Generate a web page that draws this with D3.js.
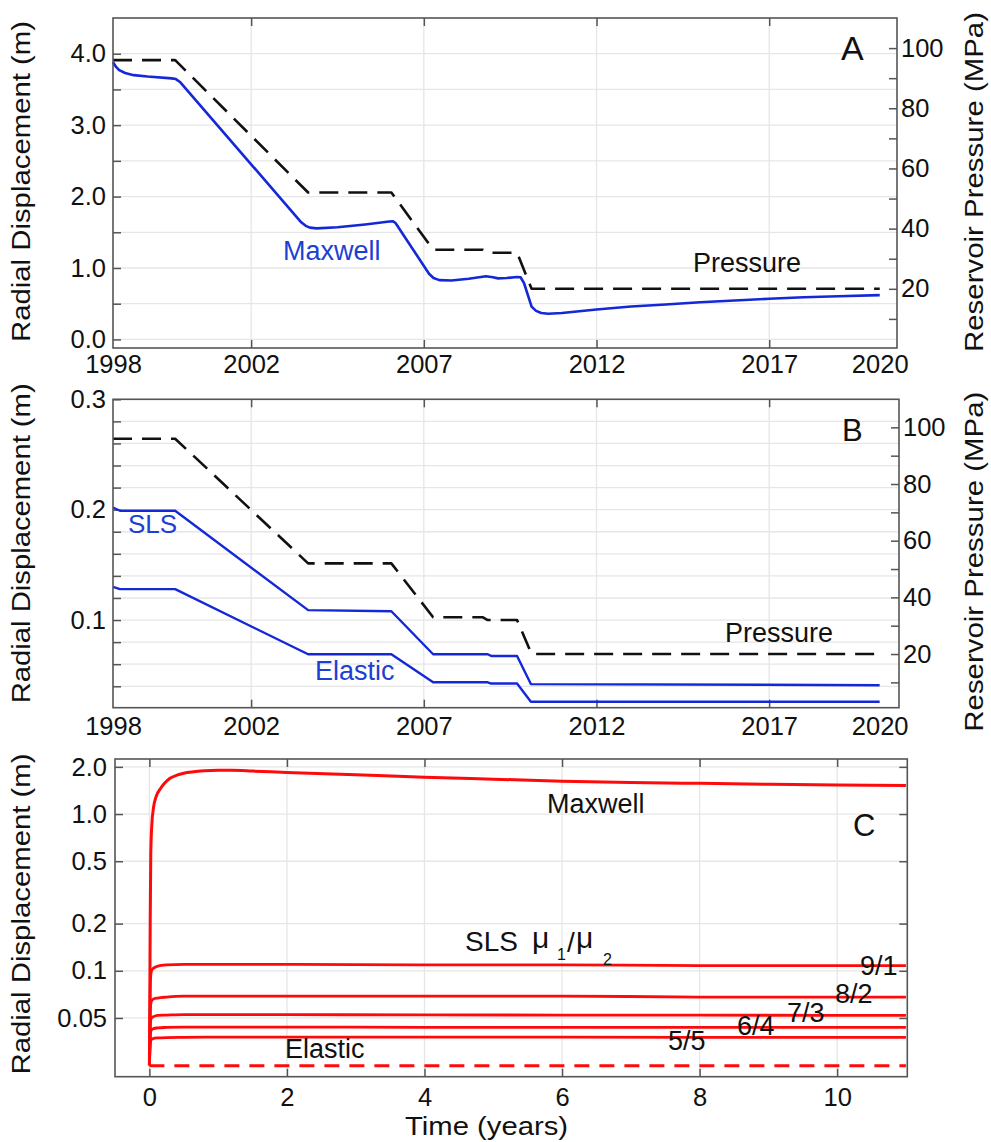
<!DOCTYPE html>
<html>
<head>
<meta charset="utf-8">
<script src="https://cdn.jsdelivr.net/npm/d3@7"></script>
<style>
  body { margin: 0; background: #fff; }
  svg { display: block; }
  text { font-family: "Liberation Sans", Arial, sans-serif; fill: #111; }
</style>
</head>
<body>
<svg id="chart" width="991" height="1142"></svg>
<script>
// ---------- Panel A / B: reservoir pressure history (MPa) ----------
const pressureYears = [1998, 1999.8, 2003.65, 2006.06, 2007.27, 2008.7, 2008.85, 2009.7, 2010.12, 2020.2];
const pressureMPa   = [96, 96, 52, 52, 33, 33, 32, 32, 20, 20];

// ---------- Panel A: Maxwell radial displacement (m) ----------
const maxwellYearsA = [1998, 1998.08, 1998.18, 1998.35, 1998.6, 1999.0, 1999.7, 1999.82, 1999.95, 2003.45, 2003.58, 2003.7, 2003.9, 2004.5, 2005.3, 2006.0, 2006.1, 2006.18,
                       2007.15, 2007.28, 2007.45, 2007.8, 2008.3, 2008.8, 2009.0, 2009.15, 2009.4, 2009.7, 2009.8, 2009.9, 2010.12, 2010.25, 2010.4, 2010.6,
                       2011, 2012, 2013, 2014, 2015, 2016, 2017, 2018, 2019, 2020.2];
const maxwellA      = [3.88, 3.82, 3.77, 3.73, 3.7, 3.68, 3.655, 3.645, 3.6, 1.64, 1.59, 1.565, 1.555, 1.57, 1.61, 1.65, 1.655, 1.63,
                       0.92, 0.86, 0.83, 0.825, 0.85, 0.885, 0.87, 0.855, 0.86, 0.875, 0.87, 0.79, 0.46, 0.4, 0.37, 0.36,
                       0.37, 0.42, 0.46, 0.49, 0.52, 0.545, 0.57, 0.59, 0.605, 0.62];

// ---------- Panel B: SLS and elastic radial displacement (m) ----------
const yearsB     = [1998, 1998.2, 1999.8, 2003.65, 2006.06, 2007.27, 2008.85, 2008.95, 2009.7, 2010.1, 2020.2];
const slsB       = [0.202, 0.199, 0.199, 0.109, 0.108, 0.069, 0.069, 0.0675, 0.0675, 0.042, 0.041];
const elasticB   = [0.13, 0.128, 0.128, 0.069, 0.069, 0.0436, 0.0436, 0.0425, 0.0425, 0.026, 0.026];

// ---------- Panel C: displacement after a pressure step (log scale) ----------
const tMaxwellC  = [0, 0.005, 0.012, 0.02, 0.035, 0.06, 0.1, 0.16, 0.22, 0.3, 0.4, 0.5, 0.65, 0.8, 1.0, 1.2, 1.5,
                    2, 3, 4, 5, 6, 7, 8, 9, 10, 11];
const maxwellC   = [0.025, 0.05, 0.2, 0.55, 0.85, 1.1, 1.3, 1.45, 1.57, 1.69, 1.77, 1.82, 1.86, 1.89, 1.9, 1.9, 1.88,
                    1.84, 1.78, 1.72, 1.67, 1.62, 1.59, 1.57, 1.55, 1.53, 1.52];
const tSLS       = [0, 0.008, 0.015, 0.03, 0.06, 0.12, 0.25, 0.5, 1, 2, 4, 6, 8, 10, 11];
const sls91      = [0.025, 0.05, 0.085, 0.1, 0.104, 0.107, 0.109, 0.11, 0.11, 0.11, 0.109, 0.109, 0.108, 0.108, 0.108];
const sls82      = [0.025, 0.04, 0.058, 0.064, 0.066, 0.067, 0.068, 0.069, 0.069, 0.069, 0.069, 0.069, 0.068, 0.068, 0.068];
const sls73      = [0.025, 0.036, 0.047, 0.05, 0.051, 0.052, 0.0522, 0.0525, 0.0525, 0.0525, 0.0523, 0.0522, 0.0521, 0.052, 0.052];
const sls64      = [0.025, 0.033, 0.04, 0.042, 0.0428, 0.0432, 0.0435, 0.0437, 0.0437, 0.0437, 0.0436, 0.0436, 0.0435, 0.0435, 0.0435];
const sls55      = [0.025, 0.031, 0.035, 0.0365, 0.037, 0.0373, 0.0375, 0.0376, 0.0377, 0.0377, 0.0377, 0.0377, 0.0376, 0.0376, 0.0376];
const slsRatios  = ["9/1", "8/2", "7/3", "6/4", "5/5"];
const tElasticC  = [0, 11];
const elasticC   = [0.0248, 0.0248];

// ---------- tick values and labels ----------
const yearTicks      = [1998, 2002, 2007, 2012, 2017, 2020.2];
const yearTickLabels = ["1998", "2002", "2007", "2012", "2017", "2020"];
const yearGrid       = [2002, 2007, 2012, 2017];
const dispTicksA     = [0, 1, 2, 3, 4];
const dispLabelsA    = ["0.0", "1.0", "2.0", "3.0", "4.0"];
const dispMinorA     = [0.5, 1.5, 2.5, 3.5];
const dispTicksB     = [0.1, 0.2, 0.3];
const dispLabelsB    = ["0.1", "0.2", "0.3"];
const dispMinorB     = [0.04, 0.06, 0.08, 0.12, 0.14, 0.16, 0.18, 0.22, 0.24, 0.26, 0.28];
const pressTicks     = [10, 20, 30, 40, 50, 60, 70, 80, 90, 100];
const pressLabeled   = [20, 40, 60, 80, 100];
const timeTicksC     = [0, 2, 4, 6, 8, 10];
const dispTicksC     = [2, 1, 0.5, 0.2, 0.1, 0.05];
const dispLabelsC    = ["2.0", "1.0", "0.5", "0.2", "0.1", "0.05"];

// ---------- styling ----------
const FRAME = "#555", GRID = "#e6e6e6", BLUE = "#1428d8", BLUE_TEXT = "#1d3fd4", RED = "#ff0a0a";
const TICK_FS = 25.5;
const svg = d3.select("#chart");

function styleAxis(a) {
  a.attr("font-family", '"Liberation Sans", Arial, sans-serif').attr("font-size", TICK_FS);
  a.select(".domain").remove();
  a.selectAll(".tick line").attr("stroke", FRAME).attr("stroke-width", 1.5);
  a.selectAll(".tick text").attr("fill", "#111");
  return a;
}

function gridLines(x, y, xg, yg) {
  const [xl, xr] = x.range(), [yb, yt] = y.range();
  const g = svg.append("g").attr("stroke", GRID).attr("stroke-width", 1.3);
  g.selectAll(".h").data(yg).join("line")
    .attr("x1", xl).attr("x2", xr).attr("y1", d => y(d)).attr("y2", d => y(d));
  g.selectAll(".v").data(xg).join("line")
    .attr("y1", yb).attr("y2", yt).attr("x1", d => x(d)).attr("x2", d => x(d));
}

function frame(x, y) {
  const [xl, xr] = x.range(), [yb, yt] = y.range();
  svg.append("rect").attr("x", xl).attr("y", yt).attr("width", xr - xl).attr("height", yb - yt)
    .attr("fill", "none").attr("stroke", FRAME).attr("stroke-width", 1.6);
}

function drawLine(x, y, xs, ys, color, width, dash, curve) {
  const line = d3.line().x(d => x(d[0])).y(d => y(d[1])).curve(curve || d3.curveLinear);
  svg.append("path").datum(d3.zip(xs, ys)).attr("d", line)
    .attr("fill", "none").attr("stroke", color).attr("stroke-width", width)
    .attr("stroke-dasharray", dash || null).attr("stroke-linejoin", "round");
}

function label(txt, x, y, size, color, extra) {
  const t = svg.append("text").attr("x", x).attr("y", y).attr("font-size", size)
    .style("fill", color || "#111").text(txt);
  if (extra) extra(t);
  return t;
}

function verticalTitle(txt, bx, cy, len) {
  svg.append("text").attr("transform", `translate(${bx},${cy}) rotate(-90)`)
    .attr("text-anchor", "middle").attr("font-size", 25)
    .attr("textLength", len).attr("lengthAdjust", "spacingAndGlyphs").text(txt);
}

// Year-axis panel (A and B)
function yearPanel(x, y, p, opts) {
  const [xl, xr] = x.range(), [yb, yt] = y.range();
  gridLines(x, y, yearGrid, opts.yGrid);

  // bottom labels
  styleAxis(svg.append("g").attr("transform", `translate(0,${yb})`)
    .call(d3.axisBottom(x).tickValues(yearTicks).tickSize(0).tickPadding(opts.xPad)
      .tickFormat((d, i) => yearTickLabels[i])));
  // inner ticks on bottom and top
  styleAxis(svg.append("g").attr("transform", `translate(0,${yb})`)
    .call(d3.axisBottom(x).tickValues(yearGrid).tickSize(-8).tickFormat("")));
  styleAxis(svg.append("g").attr("transform", `translate(0,${yt})`)
    .call(d3.axisTop(x).tickValues(yearGrid).tickSize(-8).tickFormat("")));
  // left displacement axis
  styleAxis(svg.append("g").attr("transform", `translate(${xl},0)`)
    .call(d3.axisLeft(y).tickValues(opts.yTicks).tickSize(-8).tickPadding(7)
      .tickFormat((d, i) => opts.yLabels[i])));
  styleAxis(svg.append("g").attr("transform", `translate(${xl},0)`)
    .call(d3.axisLeft(y).tickValues(opts.yMinor).tickSize(-8).tickFormat("")));
  // right pressure axis
  styleAxis(svg.append("g").attr("transform", `translate(${xr},0)`)
    .call(d3.axisRight(p).tickValues(pressTicks).tickSize(-8).tickPadding(4)
      .tickFormat(d => pressLabeled.includes(d) ? String(d) : "")));
}

// ================= Panel A =================
const xA = d3.scaleLinear([1998, 2020.7], [113, 897]);
const yA = d3.scaleLinear([-0.12, 4.5], [348, 18]);
const pA = d3.scaleLinear([0.33, 110], [348, 18]);
yearPanel(xA, yA, pA, {
  yGrid: dispTicksA.concat(dispMinorA), yTicks: dispTicksA, yLabels: dispLabelsA, yMinor: dispMinorA, xPad: 7
});
drawLine(xA, pA, pressureYears, pressureMPa, "#111", 2.6, "19 10");
drawLine(xA, yA, maxwellYearsA, maxwellA, BLUE, 2.6);
frame(xA, yA);
label("Maxwell", 283, 260, 27, BLUE_TEXT);
label("Pressure", 693, 272, 27);
label("A", 841, 60, 34);
verticalTitle("Radial Displacement (m)", 30, 181.5, 321);
verticalTitle("Reservoir Pressure (MPa)", 983, 182, 340);

// ================= Panel B =================
const xB = d3.scaleLinear([1998, 2020.76], [113, 899]);
const yB = d3.scaleLinear([0.0206, 0.3], [707.7, 399.3]);
const pB = d3.scaleLinear([1.06, 109.9], [707.7, 399.3]);
yearPanel(xB, yB, pB, {
  yGrid: dispTicksB.concat(dispMinorB), yTicks: dispTicksB, yLabels: dispLabelsB, yMinor: dispMinorB, xPad: 9
});
drawLine(xB, pB, pressureYears, pressureMPa, "#111", 2.6, "19 10");
drawLine(xB, yB, yearsB, slsB, BLUE, 2.4);
drawLine(xB, yB, yearsB, elasticB, BLUE, 2.4);
frame(xB, yB);
label("SLS", 128, 533, 26, BLUE_TEXT);
label("Elastic", 315, 680, 27, BLUE_TEXT);
label("Pressure", 725, 642, 27);
label("B", 842, 441, 31);
verticalTitle("Radial Displacement (m)", 30, 543.3, 320);
verticalTitle("Reservoir Pressure (MPa)", 983, 561.7, 340);

// ================= Panel C =================
const xC = d3.scaleLinear([-0.5, 11.02], [115, 907.3]);
const yC = d3.scaleLog([0.0211, 2.245], [1076.7, 759]);
gridLines(xC, yC, timeTicksC, dispTicksC);
styleAxis(svg.append("g").attr("transform", `translate(0,${yC.range()[0]})`)
  .call(d3.axisBottom(xC).tickValues(timeTicksC).tickSize(-8).tickPadding(11.6).tickFormat(d3.format("d"))));
styleAxis(svg.append("g").attr("transform", `translate(0,${yC.range()[1]})`)
  .call(d3.axisTop(xC).tickValues(timeTicksC).tickSize(-8).tickFormat("")));
styleAxis(svg.append("g").attr("transform", `translate(${xC.range()[0]},0)`)
  .call(d3.axisLeft(yC).tickValues(dispTicksC).tickSize(-8).tickPadding(8)
    .tickFormat((d, i) => dispLabelsC[i])));
styleAxis(svg.append("g").attr("transform", `translate(${xC.range()[1]},0)`)
  .call(d3.axisRight(yC).tickValues(dispTicksC).tickSize(-8).tickFormat("")));

drawLine(xC, yC, tElasticC, elasticC, RED, 3, "15 10");
[sls55, sls64, sls73, sls82, sls91].forEach(s => drawLine(xC, yC, tSLS, s, RED, 2.8, null, d3.curveMonotoneX));
drawLine(xC, yC, tMaxwellC, maxwellC, RED, 3, null, d3.curveMonotoneX);
frame(xC, yC);

label("Maxwell", 547, 813, 27);
label("C", 853, 836, 31);
label("Elastic", 285, 1058, 27);
// ratio labels for the SLS curves
const ratioPos = [[860, 975], [835, 1003], [787, 1022], [737, 1035], [668, 1050]];
slsRatios.forEach((r, i) => label(r, ratioPos[i][0], ratioPos[i][1], 27));
// "SLS μ1/μ2" heading
label("SLS", 465, 951, 28);
const MU_FONT = '"DejaVu Sans", sans-serif';
label("μ", 532, 948, 30, "#111", t => t.attr("font-family", MU_FONT));
label("1", 557, 960, 16);
label("/", 567, 952, 28, "#111", t => t.attr("font-family", MU_FONT));
label("μ", 576, 948, 30, "#111", t => t.attr("font-family", MU_FONT));
label("2", 603, 965, 16);

// axis title
svg.append("text").attr("x", 486.5).attr("y", 1135).attr("text-anchor", "middle")
  .attr("font-size", 25).attr("textLength", 163).attr("lengthAdjust", "spacingAndGlyphs").text("Time (years)");
verticalTitle("Radial Displacement (m)", 30, 914, 321);
</script>
</body>
</html>
